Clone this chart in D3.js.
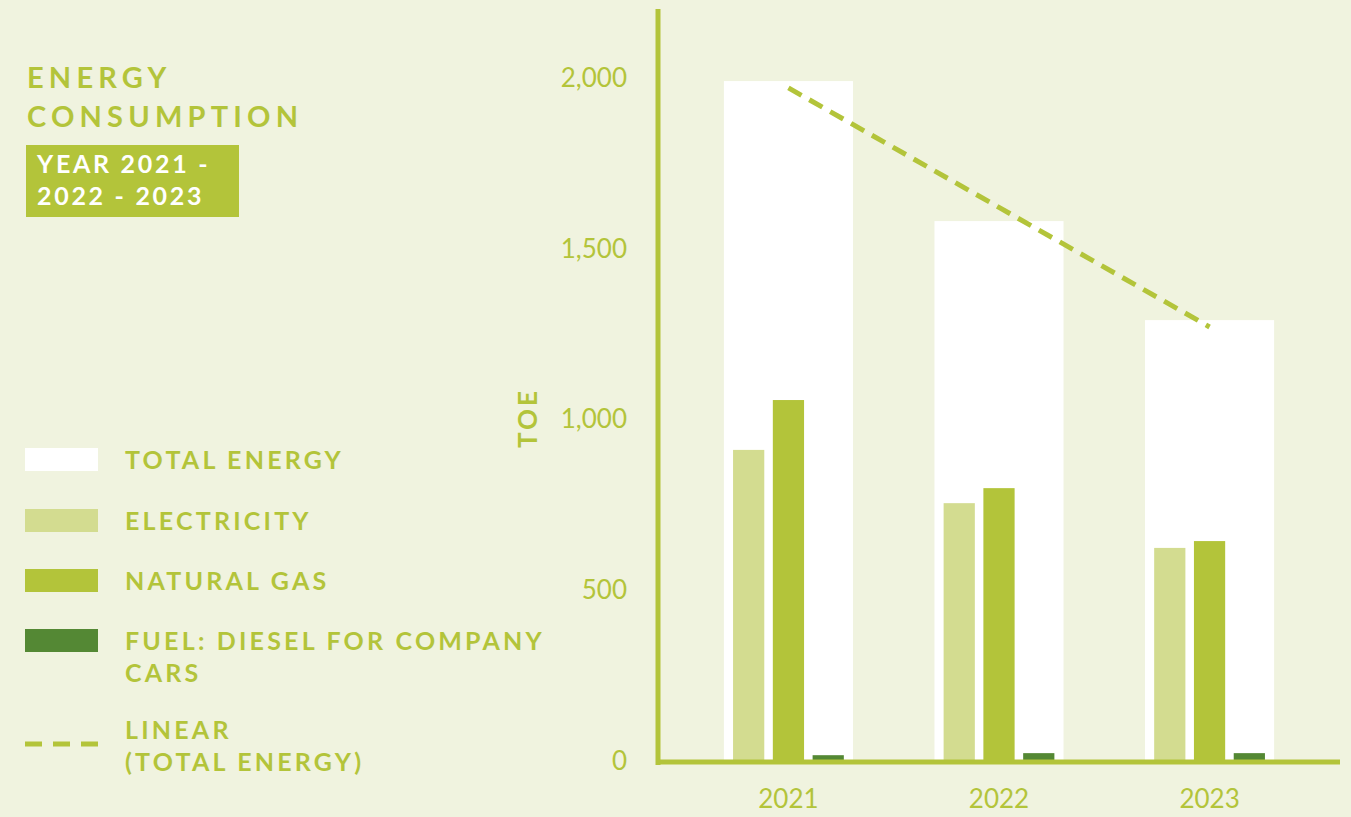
<!DOCTYPE html>
<html>
<head>
<meta charset="utf-8">
<script src="https://cdn.jsdelivr.net/npm/d3@7"></script>
<style>
  html, body { margin: 0; padding: 0; background: #f0f3df; }
  svg { display: block; font-family: Lato, "Open Sans", sans-serif; }
</style>
</head>
<body>
<svg id="chart" width="1351" height="817"></svg>
<script>
//
// DATA
//
const years = ['2021', '2022', '2023']
const totalEnergy = [1991, 1581, 1291]
const electricity = [911, 755, 624]
const naturalGas = [1057, 799, 644]
const diesel = [17, 23, 23]
const yTicks = [0, 500, 1000, 1500, 2000]

const seriesNames = ['Electricity', 'Natural gas', 'Diesel']
const legendLabels = [
    ['TOTAL ENERGY'],
    ['ELECTRICITY'],
    ['NATURAL GAS'],
    ['FUEL: DIESEL FOR COMPANY', 'CARS'],
    ['LINEAR', '(TOTAL ENERGY)'],
]

//
// STYLE
//
const green = '#b3c43a'
const lightGreen = '#d3dc90'
const darkGreen = '#548834'
const seriesColors = [lightGreen, green, darkGreen]

const svg = d3.select('#chart')

// scales
const x = d3.scaleBand().domain(years).range([658, 1340]).paddingInner(0.387).paddingOuter(0.313)
const xSub = d3.scaleBand().domain(seriesNames).range([0, x.bandwidth()]).paddingInner(0.215).paddingOuter(0.23)
const y = d3.scaleLinear().domain([0, 2000]).range([761, 78])

// total energy bars (white, behind)
svg.append('g')
    .selectAll('rect')
    .data(years)
    .join('rect')
    .attr('x', d => x(d))
    .attr('width', x.bandwidth())
    .attr('y', (d, i) => y(totalEnergy[i]))
    .attr('height', (d, i) => y(0) - y(totalEnergy[i]))
    .attr('fill', '#ffffff')

// inner bars per year
const seriesValues = [electricity, naturalGas, diesel]
const groups = svg.append('g')
    .selectAll('g')
    .data(years)
    .join('g')
    .attr('transform', d => `translate(${x(d)},0)`)
groups.selectAll('rect')
    .data((d, i) => seriesNames.map((s, j) => ({ s, j, v: seriesValues[j][i] })))
    .join('rect')
    .attr('x', d => xSub(d.s))
    .attr('width', xSub.bandwidth())
    .attr('y', d => y(d.v))
    .attr('height', d => y(0) - y(d.v))
    .attr('fill', d => seriesColors[d.j])

// linear trend of total energy (least squares over the 3 years)
const idx = years.map((d, i) => i)
const mx = d3.mean(idx)
const my = d3.mean(totalEnergy)
const slope = d3.sum(idx, i => (i - mx) * (totalEnergy[i] - my)) / d3.sum(idx, i => (i - mx) ** 2)
const trend = idx.map(i => my + slope * (i - mx))
svg.append('path')
    .datum(trend)
    .attr('d', d3.line().x((d, i) => x(years[i]) + x.bandwidth() / 2).y(d => y(d)))
    .attr('fill', 'none')
    .attr('stroke', green)
    .attr('stroke-width', 5)
    .attr('stroke-dasharray', '15 9')

// y axis
const yAxis = svg.append('g')
    .attr('transform', 'translate(658,0)')
    .call(d3.axisLeft(y).tickValues(yTicks).tickFormat(d3.format(',')).tickSize(0).tickPadding(31))
yAxis.select('.domain').remove()
yAxis.selectAll('text')
    .attr('fill', green)
    .style('font-family', 'Lato, sans-serif')
    .style('font-weight', 400)
    .style('font-size', '26px')

// x axis
const xAxis = svg.append('g')
    .attr('transform', 'translate(0,762)')
    .call(d3.axisBottom(x).tickSize(0).tickPadding(28))
xAxis.select('.domain').remove()
xAxis.selectAll('text')
    .attr('fill', green)
    .style('font-family', 'Lato, sans-serif')
    .style('font-weight', 400)
    .style('font-size', '26px')

// axis lines (thick)
svg.append('line')
    .attr('x1', 658).attr('x2', 658).attr('y1', 9).attr('y2', 765)
    .attr('stroke', green).attr('stroke-width', 5)
svg.append('line')
    .attr('x1', 656).attr('x2', 1340).attr('y1', 762).attr('y2', 762)
    .attr('stroke', green).attr('stroke-width', 5)

// y axis title
svg.append('text')
    .attr('transform', 'translate(537,418) rotate(-90)')
    .attr('text-anchor', 'middle')
    .attr('fill', green)
    .style('font-weight', 700)
    .style('font-size', '26px')
    .style('letter-spacing', '3px')
    .text('TOE')

// title
const title = svg.append('g')
title.append('text').attr('x', 27).attr('y', 88).text('ENERGY')
title.append('text').attr('x', 27).attr('y', 127).text('CONSUMPTION')
title.selectAll('text')
    .attr('fill', green)
    .style('font-weight', 700)
    .style('font-size', '29px')
    .style('letter-spacing', '5.2px')

svg.append('rect')
    .attr('x', 26).attr('y', 145).attr('width', 213).attr('height', 72)
    .attr('fill', green)
const sub = svg.append('g')
sub.append('text').attr('x', 37).attr('y', 173).text('YEAR 2021 -')
sub.append('text').attr('x', 37).attr('y', 205).text('2022 - 2023')
sub.selectAll('text')
    .attr('fill', '#ffffff')
    .style('font-weight', 700)
    .style('font-size', '25px')
    .style('letter-spacing', '2.7px')

// legend
const legendY = [448, 509, 569, 629, 744]
const legendBase = [469, 530, 590, 650, 739]
const swatchFill = ['#ffffff', lightGreen, green, darkGreen, null]
const legend = svg.append('g')
legendLabels.forEach((lines, i) => {
    if (swatchFill[i]) {
        legend.append('rect')
            .attr('x', 25).attr('y', legendY[i]).attr('width', 73).attr('height', 23)
            .attr('fill', swatchFill[i])
    } else {
        legend.append('line')
            .attr('x1', 25).attr('x2', 98).attr('y1', legendY[i]).attr('y2', legendY[i])
            .attr('stroke', green).attr('stroke-width', 5)
            .attr('stroke-dasharray', '17 11')
    }
    lines.forEach((t, k) => {
        legend.append('text')
            .attr('x', 125)
            .attr('y', legendBase[i] + k * 32)
            .attr('fill', green)
            .style('font-weight', 700)
            .style('font-size', '25px')
            .style('letter-spacing', '3.2px')
            .text(t)
    })
})
</script>
</body>
</html>
